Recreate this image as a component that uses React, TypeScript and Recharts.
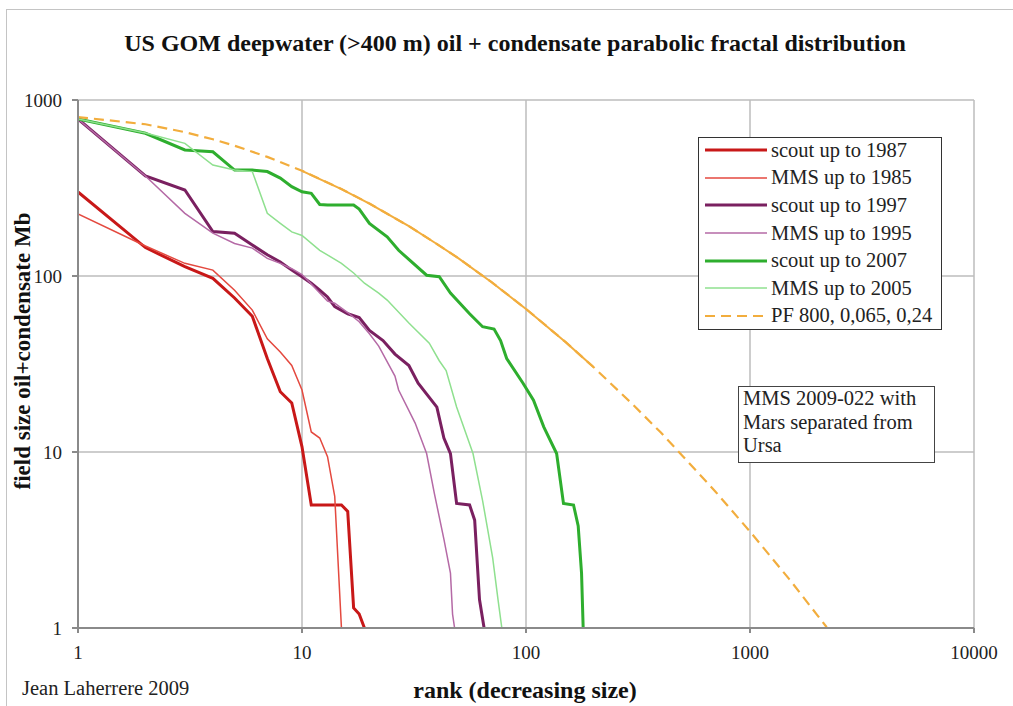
import React from 'react';
import { LineChart, Line, XAxis, YAxis, CartesianGrid } from 'recharts';

const xTicks = [1, 10, 100, 1000, 10000];
const yTicks = [1, 10, 100, 1000];

const scout1987Ranks = [1, 2, 3, 4, 5, 6, 7, 8, 9, 10, 11, 15, 16, 17, 18, 19];
const scout1987Sizes = [300, 145, 113, 97, 75, 59, 34, 22, 19, 10.7, 5, 5, 4.6, 1.3, 1.2, 1.0];

const mms1985Ranks = [1, 2, 3, 4, 5, 6, 7, 8, 9, 10, 11, 12, 13, 14, 15];
const mms1985Sizes = [225, 148, 118, 108, 83, 64, 44, 37, 31, 22.5, 13, 12, 9.4, 5.6, 1.0];

const scout1997Ranks = [1, 2, 3, 4, 5, 6, 7, 8, 9, 10, 11, 12, 13, 14, 16, 18, 20, 23, 26, 30, 33, 40, 43, 46, 49, 56, 59, 62, 65];
const scout1997Sizes = [780, 370, 308, 179, 175, 150, 132, 120, 108, 99, 91, 83, 76, 67, 61, 58, 49, 43, 36, 31, 24.6, 18, 12, 9.8, 5.1, 5, 4.1, 1.45, 1.0];

const mms1995Ranks = [1, 2, 3, 4, 5, 6, 7, 8, 9, 10, 11, 12, 13, 14, 16, 18, 20, 22, 26, 27, 32, 36, 39, 43, 46, 47, 48];
const mms1995Sizes = [780, 370, 227, 175, 153, 144, 126, 118, 110, 102, 90, 80, 72, 70, 62, 55, 47, 40, 27, 22.5, 14.6, 9.8, 5.8, 3.2, 2.05, 1.2, 1.0];

const scout2007Ranks = [1, 2, 3, 4, 5, 6, 7, 8, 9, 10, 11, 12, 13, 17, 18, 20, 24, 27, 36, 41, 46, 56, 64, 72, 77, 82, 97, 108, 120, 137, 147, 163, 171, 177, 180];
const scout2007Sizes = [780, 647, 520, 508, 400, 400, 392, 360, 322, 301, 295, 255, 253, 253, 240, 199, 167, 140, 101, 99, 80, 61, 51.5, 50, 43, 34, 24.6, 19.7, 13.9, 9.8, 5.1, 5, 3.8, 2.05, 1.0];

const mms2005Ranks = [1, 2, 3, 4, 5, 6, 7, 8, 9, 10, 12, 15, 17, 19, 22, 24, 30, 37, 41, 44, 49, 58, 64, 71, 75, 78];
const mms2005Sizes = [780, 650, 567, 427, 400, 392, 227, 199, 178, 170, 140, 118, 104, 91, 80, 73, 54, 41.5, 33, 29, 18, 9.8, 5.3, 2.5, 1.45, 1.0];

const pfRanks = [1, 2, 3, 4, 5, 7, 10, 15, 20, 30, 40, 50, 70, 100, 150, 200, 300, 400, 500, 700, 1000, 1500, 2000, 2200];
const pfSizes = [800, 728, 657, 598, 550, 475, 396, 312, 258, 192, 152, 126, 92.5, 65, 42.2, 30.4, 18.6, 12.9, 9.5, 5.97, 3.53, 1.89, 1.18, 1.01];

const seriesNames = [
  'scout up to 1987',
  'MMS up to 1985',
  'scout up to 1997',
  'MMS up to 1995',
  'scout up to 2007',
  'MMS up to 2005',
  'PF 800, 0,065, 0,24',
];

const zip = (r: number[], s: number[]) => r.map((rank, i) => ({ rank, size: s[i] }));

const PF_COLOR = '#f2ad3d';

const series = [
  { name: seriesNames[0], data: zip(scout1987Ranks, scout1987Sizes), color: '#c81818', width: 3, dash: undefined },
  { name: seriesNames[1], data: zip(mms1985Ranks, mms1985Sizes), color: '#e4493f', width: 1.5, dash: undefined },
  { name: seriesNames[2], data: zip(scout1997Ranks, scout1997Sizes), color: '#7a2060', width: 3, dash: undefined },
  { name: seriesNames[3], data: zip(mms1995Ranks, mms1995Sizes), color: '#b56aa6', width: 1.5, dash: undefined },
  { name: seriesNames[4], data: zip(scout2007Ranks, scout2007Sizes), color: '#2eae2e', width: 3, dash: undefined },
  { name: seriesNames[5], data: zip(mms2005Ranks, mms2005Sizes), color: '#8fe08f', width: 1.5, dash: undefined },
  { name: seriesNames[6], data: zip(pfRanks, pfSizes), color: PF_COLOR, width: 2.2, dash: '10 6' },
];

// middle stretch of the PF curve is drawn solid in the original
const pfSolidData = zip(pfRanks, pfSizes).filter((d) => d.rank >= 10 && d.rank <= 200);

const FONT = "'Liberation Serif', 'Times New Roman', serif";

export default function App() {
  return (
    <div style={{ position: 'absolute', left: 0, top: 0, width: 1013, height: 706, background: '#fff', fontFamily: FONT, overflow: 'hidden' }}>
      <div style={{ position: 'absolute', left: 6, top: 9, width: 1100, height: 800, borderLeft: '1.5px solid #c4c4c4', borderTop: '1.5px solid #c4c4c4' }} />
      <div style={{ position: 'absolute', left: 515, top: 43, transform: 'translate(-50%,-50%)', whiteSpace: 'nowrap', fontWeight: 'bold', fontSize: 24, color: '#111', fontFamily: FONT }}>
        US GOM deepwater (&gt;400 m) oil + condensate parabolic fractal distribution
      </div>
      <div style={{ position: 'absolute', left: 0, top: 0 }}>
        <LineChart width={1013} height={706} margin={{ top: 100, right: 39, bottom: 0, left: 0 }}>
          <CartesianGrid stroke="#bdbdbd" strokeWidth={1.5} horizontalValues={yTicks} verticalValues={xTicks} />
          <XAxis
            dataKey="rank"
            type="number"
            scale="log"
            domain={[1, 10000]}
            ticks={xTicks}
            allowDataOverflow
            height={78}
            stroke="#8a8a8a"
            strokeWidth={2}
            tickSize={5}
            tickMargin={13}
            tick={{ fill: '#222', fontSize: 19, fontFamily: FONT }}
          />
          <YAxis
            dataKey="size"
            type="number"
            scale="log"
            domain={[1, 1000]}
            ticks={yTicks}
            allowDataOverflow
            width={78}
            stroke="#8a8a8a"
            strokeWidth={2}
            tickSize={6}
            tickMargin={10}
            tick={{ fill: '#222', fontSize: 19, fontFamily: FONT }}
          />
          {series.map((s) => (
            <Line
              key={s.name}
              data={s.data}
              dataKey="size"
              name={s.name}
              type="linear"
              stroke={s.color}
              strokeWidth={s.width}
              strokeDasharray={s.dash}
              dot={false}
              activeDot={false}
              isAnimationActive={false}
            />
          ))}
          <Line
            key="pf-solid"
            data={pfSolidData}
            dataKey="size"
            name="pf-solid"
            type="linear"
            stroke={PF_COLOR}
            strokeWidth={2}
            dot={false}
            activeDot={false}
            legendType="none"
            isAnimationActive={false}
          />
        </LineChart>
      </div>
      <div style={{ position: 'absolute', left: 23, top: 351, transform: 'translate(-50%,-50%) rotate(-90deg)', whiteSpace: 'nowrap', fontWeight: 'bold', fontSize: 23, color: '#111' }}>
        field size oil+condensate Mb
      </div>
      <div style={{ position: 'absolute', left: 525, top: 690, transform: 'translate(-50%,-50%)', whiteSpace: 'nowrap', fontWeight: 'bold', fontSize: 24, color: '#111' }}>
        rank (decreasing size)
      </div>
      <div style={{ position: 'absolute', left: 22, top: 688, transform: 'translateY(-50%)', whiteSpace: 'nowrap', fontSize: 20.5, color: '#222' }}>
        Jean Laherrere 2009
      </div>
      <div style={{ position: 'absolute', left: 698, top: 137, width: 244, height: 193, boxSizing: 'border-box', border: '1.5px solid #333', background: '#fff' }}>
        {series.map((s, i) => (
          <div key={s.name} style={{ position: 'absolute', left: 0, top: i * 27.6 - 1.5, height: 27.6, display: 'flex', alignItems: 'center', whiteSpace: 'nowrap' }}>
            <svg width={70} height={10} style={{ marginLeft: 6 }}>
              <line x1={0} y1={5} x2={62} y2={5} stroke={s.color} strokeWidth={s.width} strokeDasharray={s.dash} />
            </svg>
            <span style={{ fontSize: 20.5, color: '#222', marginLeft: -4 }}>{s.name}</span>
          </div>
        ))}
      </div>
      <div style={{ position: 'absolute', left: 738, top: 386, width: 197, height: 77, boxSizing: 'border-box', border: '1.5px solid #444', background: '#fff', padding: '0 0 0 4px', fontSize: 20.5, lineHeight: '23.5px', color: '#222', whiteSpace: 'nowrap' }}>
        MMS 2009-022 with<br />Mars separated from<br />Ursa
      </div>
    </div>
  );
}
